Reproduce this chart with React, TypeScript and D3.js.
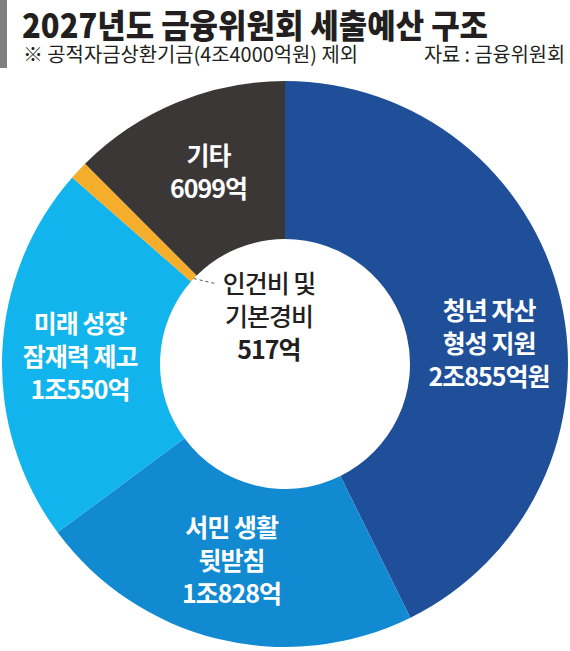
import React from "react";
import * as d3 from "d3";

const categories = ["청년 자산 형성 지원", "서민 생활 뒷받침", "미래 성장 잠재력 제고", "인건비 및 기본경비", "기타"];
const values = [20855, 10828, 10550, 517, 6099];
const labelLines = [
  ["청년 자산", "형성 지원", "2조855억원"],
  ["서민 생활", "뒷받침", "1조828억"],
  ["미래 성장", "잠재력 제고", "1조550억"],
  ["인건비 및", "기본경비", "517억"],
  ["기타", "6099억"],
];
const colors = ["#1e4f98", "#118ad2", "#11b4ec", "#f5ae2b", "#3a3736"];

const title = "2027년도 금융위원회 세출예산 구조";
const note = "※ 공적자금상환기금(4조4000억원) 제외";
const source = "자료 : 금융위원회";

// layout
const W = 570, H = 651;
const cx = 285, cy = 364, R = 283, r0 = 125;
const labelAngle = [84.7, 195.1, 271.7, null, 338.1];
const labelRadius = 205;
const FONT = "'Noto Sans CJK KR', 'Noto Sans', sans-serif";

export default function App() {
  const pie = d3.pie<number>().sort(null).value((d) => d)(values);
  const arc = d3.arc<d3.PieArcDatum<number>>().innerRadius(r0).outerRadius(R);
  const lh = 33;

  const labelPos = (i: number) => {
    if (i === 3) return [cx - 16, cy - 46];
    const a = ((labelAngle[i] as number) * Math.PI) / 180;
    return [cx + labelRadius * Math.sin(a), cy - labelRadius * Math.cos(a)];
  };

  const small = pie[3];
  const midA = (small.startAngle + small.endAngle) / 2;
  const lx1 = cx + r0 * Math.sin(midA);
  const ly1 = cy - r0 * Math.cos(midA);
  const [tx, ty] = labelPos(3);

  return (
    <svg width={W} height={H} style={{ position: "absolute", left: 0, top: 0, background: "#fff" }} fontFamily={FONT}>
      <rect x={0} y={0} width={7} height={68} fill="#7f7f7f" />
      <text x={22} y={38} fontSize={33} fontWeight={900} fill="#231f20" textLength={466} lengthAdjust="spacingAndGlyphs">
        {title}
      </text>
      <text x={23} y={62} fontSize={20} fill="#231f20" textLength={335} lengthAdjust="spacingAndGlyphs">
        {note}
      </text>
      <text x={424} y={62} fontSize={20} fill="#231f20" textLength={141} lengthAdjust="spacingAndGlyphs">
        {source}
      </text>
      <g transform={`translate(${cx},${cy})`}>
        {pie.map((p, i) => (
          <path key={categories[i]} d={arc(p) || ""} fill={colors[i]} />
        ))}
      </g>
      <line x1={lx1} y1={ly1} x2={tx - 52} y2={ty - 34} stroke="#555" strokeWidth={1} strokeDasharray="3,3" />
      {labelLines.map((lines, i) => {
        const [x, y] = labelPos(i);
        const n = lines.length;
        return (
          <text
            key={i}
            textAnchor="middle"
            fontSize={25}
            fontWeight={i === 3 ? 500 : 700}
            fill={i === 3 ? "#231f20" : "#fff"}
            letterSpacing={-1}
          >
            {lines.map((s, j) => (
              <tspan
                key={j}
                x={x}
                y={y + (j - (n - 1) / 2) * lh + 8}
                fontWeight={i === 3 && j === 2 ? 700 : undefined}
              >
                {s}
              </tspan>
            ))}
          </text>
        );
      })}
    </svg>
  );
}
